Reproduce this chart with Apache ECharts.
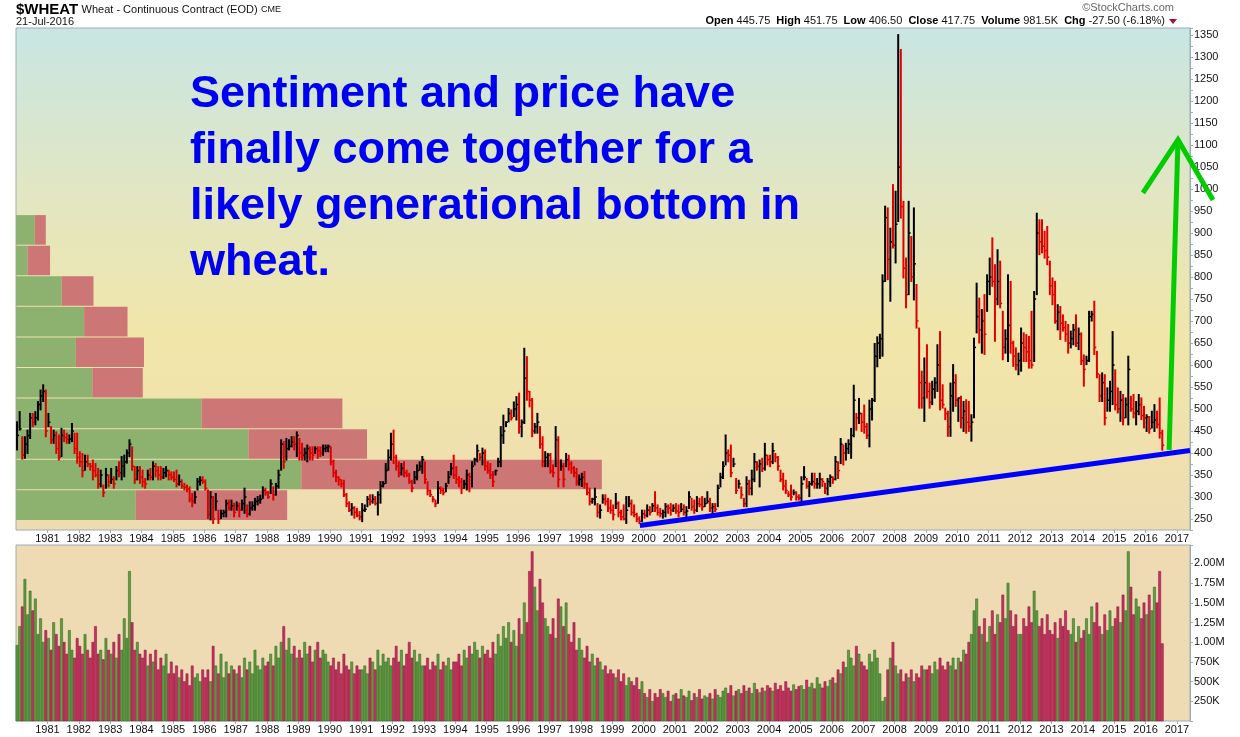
<!DOCTYPE html>
<html><head><meta charset="utf-8">
<script src="https://cdn.jsdelivr.net/npm/echarts@6/dist/echarts.min.js"></script>
<style>html,body{margin:0;padding:0;background:#fff}#c{width:1240px;height:737px}</style>
</head><body><div id="c"></div>
<script>
// ---------- DATA (monthly bars, index 0 = Jan 1980) ----------
const startYear = 1980;
const hi = [471,494,437,437,452,490,490,494,517,543,555,543,490,460,452,448,441,456,452,445,441,467,445,445,403,399,395,395,376,384,376,365,361,327,365,350,365,346,369,380,392,395,407,430,414,369,369,369,361,342,361,365,380,376,369,369,365,369,361,357,357,361,350,339,331,327,323,308,312,342,346,346,339,316,312,301,308,270,270,270,293,293,293,286,289,286,293,320,282,289,289,297,301,304,323,320,312,339,323,331,361,430,426,433,430,437,437,448,433,422,411,418,414,414,414,
414,414,418,418,418,414,384,361,346,339,338,308,289,285,278,274,267,285,282,301,305,305,301,312,335,335,376,407,445,452,395,380,376,380,361,354,338,358,373,380,392,380,335,316,301,293,335,323,320,331,358,376,395,369,346,342,338,361,354,380,388,418,399,411,407,380,376,358,361,388,460,486,471,501,498,516,528,536,475,638,619,540,524,467,490,460,437,403,399,399,373,460,437,384,376,399,395,380,369,365,350,354,358,331,320,297,320,285,282,305,305,297,293,282,308,
289,270,282,301,301,293,282,263,255,270,270,282,278,285,312,282,274,270,285,282,285,282,285,282,285,282,278,312,297,293,301,297,301,297,312,297,285,285,327,354,380,441,407,418,388,342,338,323,297,346,338,361,399,380,384,388,422,395,395,422,399,392,361,354,338,312,327,316,312,305,346,369,342,335,354,354,342,354,342,331,342,350,346,392,380,433,418,422,430,456,554,490,524,490,509,467,520,524,649,664,670,
805,961,957,911,1010,995,1351,1317,972,843,972,892,957,783,684,586,616,646,559,563,571,646,676,555,502,495,559,601,578,525,529,517,521,517,487,661,786,752,726,760,805,843,889,828,862,836,722,680,805,790,654,639,627,684,673,669,665,722,767,945,930,930,904,915,836,798,790,737,733,714,699,692,677,692,714,684,673,623,620,722,722,745,631,578,582,578,548,563,676,589,548,540,533,525,620,529,533,517,533,525,506,487,483,495,510,495,525,451.75];
const lo = [407,452,386,388,399,433,460,464,475,498,517,437,460,422,422,399,384,392,426,422,422,426,399,377,369,346,361,369,361,339,346,320,323,301,320,323,331,320,339,346,339,346,377,392,361,331,339,331,323,320,339,339,339,346,339,339,342,346,339,339,335,323,327,320,316,312,289,278,286,316,327,331,316,251,248,240,270,240,251,255,255,270,270,255,270,255,270,263,255,259,270,270,282,286,297,304,297,308,293,304,320,361,365,384,407,414,407,392,384,384,384,380,384,384,399,
388,392,395,403,403,373,346,335,327,323,301,278,267,259,252,255,248,244,267,278,282,286,282,259,286,323,331,361,384,376,361,346,350,346,346,331,312,331,339,361,354,331,305,301,289,278,286,308,305,312,331,350,342,331,323,308,320,316,312,323,373,380,384,373,361,354,342,324,350,369,369,422,460,471,475,483,475,445,437,467,520,505,437,445,445,411,369,369,369,354,346,369,323,361,323,369,361,354,346,327,327,324,320,305,282,286,282,255,252,286,282,267,263,248,274,
255,248,248,240,278,259,255,244,240,244,252,255,259,267,267,259,255,252,255,263,259,267,263,255,267,259,255,274,270,263,267,278,270,278,286,267,263,267,278,323,342,373,380,346,369,308,320,297,278,278,305,305,335,361,323,358,361,373,369,376,380,361,335,316,308,301,293,305,293,293,289,339,320,301,327,320,320,320,324,308,305,324,331,339,342,376,373,384,399,388,437,452,467,449,445,433,414,475,517,596,615,
620,790,794,745,866,832,926,934,798,730,760,790,748,684,502,502,472,525,502,510,525,540,498,502,476,438,438,495,506,472,457,449,445,449,427,480,673,650,627,624,722,760,779,654,737,730,612,627,608,627,597,589,578,586,608,608,593,593,608,760,851,855,843,828,760,737,695,680,658,677,654,627,639,646,642,635,601,552,601,608,700,624,571,517,517,464,495,495,510,498,491,472,464,480,464,495,480,464,487,476,457,449,445,457,449,457,434,406.5];
const cl = [440,455,395,420,440,480,470,480,510,530,540,450,470,430,440,410,390,440,435,430,432,450,410,390,380,360,380,375,370,360,350,330,350,310,350,335,340,330,360,355,370,380,400,420,370,340,360,345,335,330,350,345,370,360,350,345,355,360,350,345,340,330,335,325,322,318,295,290,300,335,338,335,320,260,300,250,290,250,262,265,285,275,280,265,280,270,285,300,262,275,280,290,292,295,315,310,300,330,305,325,350,420,380,410,415,425,420,440,400,395,400,410,400,395,410,
405,400,410,412,415,380,355,345,340,330,305,285,270,275,265,258,255,270,272,295,290,295,285,305,325,330,360,390,420,390,370,355,365,355,350,335,320,345,360,370,385,340,315,305,295,285,320,315,310,325,345,365,350,340,335,320,330,350,345,370,385,405,390,400,370,360,350,335,360,380,440,450,470,490,480,500,510,460,470,570,540,520,450,460,470,420,380,390,395,360,355,430,340,370,340,385,375,365,355,335,340,345,330,310,290,295,300,265,270,295,290,275,270,260,285,
265,255,250,270,285,265,260,250,245,262,258,270,265,280,275,265,262,265,278,275,270,275,268,265,272,265,268,300,278,270,285,283,278,285,290,275,278,272,320,345,370,400,395,355,375,315,330,305,285,330,320,340,380,370,375,365,395,385,380,405,390,370,340,325,315,305,300,310,300,298,330,345,325,330,335,330,330,340,335,320,335,345,340,380,360,420,400,410,420,440,520,480,490,470,460,440,500,520,620,650,660,
790,935,840,880,872,920,1050,960,820,760,900,800,830,700,560,525,560,540,515,545,560,600,520,510,490,460,530,560,520,525,480,495,470,460,470,640,710,680,700,670,790,800,790,750,790,740,640,660,690,650,620,600,610,650,640,630,610,600,750,900,880,870,860,845,780,760,700,720,695,685,670,650,660,680,650,670,610,590,610,710,715,640,580,530,560,480,520,540,600,510,500,520,480,510,590,500,490,495,510,485,480,482,455,470,475,465,445.75,417.75];
// monthly volume, thousands of contracts
const volK = [
960,1200,1450,1800,1350,1650,1400,1550,1100,1300,1000,1150,
1050,900,1250,1100,950,1300,1000,850,1150,900,800,1050,
950,850,1100,900,800,1000,1200,850,900,780,1050,900,
850,1000,800,1100,900,1300,1050,1900,1250,900,1000,850,
800,900,700,850,750,900,650,800,700,850,600,750,
600,700,550,650,500,600,450,700,550,600,500,650,
550,650,500,950,700,600,850,550,750,600,700,650,
600,700,550,800,650,750,600,900,700,650,800,700,
750,850,700,950,800,1000,1200,900,1050,850,950,800,
900,800,1000,850,950,750,900,1000,800,900,850,750,
700,800,650,750,600,850,700,650,750,600,700,650,
650,700,600,800,750,650,900,700,850,750,800,700,
800,950,750,900,700,850,1000,800,900,750,850,700,
700,800,650,750,700,850,650,750,700,800,650,750,
750,850,700,900,800,950,850,1000,900,800,950,850,
900,800,1000,850,1100,950,1200,1050,1250,1000,1150,950,
1300,1100,1500,1250,1900,2150,1700,1400,1800,1500,1300,1200,
1100,1300,1050,1550,1450,1200,1500,1100,1000,1250,900,1050,
900,800,950,750,850,700,800,750,650,700,600,650,
600,550,650,500,600,450,550,500,450,550,400,500,
350,300,400,250,350,300,400,350,300,380,250,330,
350,280,400,320,300,380,260,350,300,400,280,320,
300,350,280,400,330,300,380,420,350,450,320,380,
400,350,450,380,420,350,480,400,360,420,380,450,
420,380,480,400,450,380,500,420,380,460,400,440,
450,400,520,430,480,410,550,470,420,500,440,520,
550,480,650,600,750,680,900,800,700,950,850,750,
700,650,850,750,900,800,600,250,300,650,800,1000,
700,600,650,500,600,550,650,500,600,550,700,650,
650,700,600,750,650,800,700,650,750,700,800,650,
800,750,900,850,1000,1100,1400,1550,1200,1100,1300,1000,
1200,1400,1100,1350,1250,1600,1300,1750,1400,1200,1350,1100,
1100,1300,1200,1450,1250,1650,1400,1200,1300,1100,1350,1150,
1100,1250,1050,1300,1200,1400,1150,1100,1300,1000,1200,1050,
1150,1300,1100,1450,1250,1500,1200,1100,1350,1150,1400,1200,
1300,1450,1250,1600,1400,2150,1700,1350,1550,1450,1300,1500,
1350,1600,1400,1700,1500,1900,981.5];
// volume-by-price zones (price edges) and up/down volume (share of plot width, %)
const vbpEdges = [248, 317.5, 387, 456.5, 526, 595.5, 665, 734.5, 804, 873.5, 943];
const vbpUp   = [10.2, 24.3, 19.8, 15.8, 6.5, 5.1, 5.8, 3.9, 1.0, 1.6];
const vbpDown = [12.9, 25.6, 10.1, 12.0, 4.3, 5.8, 3.7, 2.7, 1.9, 0.94];
// annotations in data units [monthIndex, price]
const trendLine = [[238.6, 235], [449, 405.5]];
const arrowShaft = [[441, 407], [444.4, 1112]];
const arrowHead = [[431, 991], [444.4, 1112], [457.8, 975]];
const noteLines = ['Sentiment and price have', 'finally come together for a', 'likely generational bottom in', 'wheat.'];

// ---------- BUILD ----------
const N = hi.length;
const ohlc = [], vols = [];
for (let i = 0; i < N; i++) {
  const up = i === 0 ? 1 : (cl[i] >= cl[i - 1] ? 1 : 0);
  ohlc.push([i + 0.4, hi[i], lo[i], cl[i], up]);
  vols.push([i + 0.4, volK[i], up]);
}
const vbp = vbpUp.map((u, k) => [vbpEdges[k], vbpEdges[k + 1], u, vbpDown[k]]);

const FONT = 'Liberation Sans, Arial, sans-serif';
const AX = '#9aaeb6';
const xLbl = v => (v % 12 === 0 ? String(startYear + v / 12) : '');
const xAxisBase = (gi) => ({
  type: 'value', gridIndex: gi, min: 0, max: 449, interval: 12,
  axisLine: { show: false, onZero: false }, splitLine: { show: false },
  axisTick: { show: true, length: 3, lineStyle: { color: AX } },
  axisLabel: { formatter: xLbl, showMinLabel: false, showMaxLabel: false, color: '#111', fontSize: 11, fontFamily: FONT, margin: 3 }
});

const chart = echarts.init(document.getElementById('c'), null, { renderer: 'canvas' });
chart.setOption({
  animation: false,
  backgroundColor: '#fff',
  grid: [
    { left: 16, right: 50, top: 28, height: 502, show: true, borderColor: AX, borderWidth: 1,
      backgroundColor: new echarts.graphic.LinearGradient(0, 0, 0, 1, [
        { offset: 0, color: '#c8e6e3' }, { offset: 0.33, color: '#e2e6c2' },
        { offset: 0.62, color: '#f1e6a9' }, { offset: 1, color: '#eedcb1' }]) },
    { left: 16, right: 50, top: 545, height: 176, show: true, borderColor: AX, borderWidth: 1, backgroundColor: '#eedbb4' }
  ],
  xAxis: [
    xAxisBase(0), xAxisBase(1),
    { type: 'value', gridIndex: 0, min: 0, max: 100, show: false }
  ],
  yAxis: [
    { type: 'value', gridIndex: 0, position: 'right', min: 225, max: 1366, interval: 25,
      axisLine: { show: true, onZero: false, lineStyle: { color: AX } }, splitLine: { show: false },
      axisTick: { show: true, length: 3, lineStyle: { color: AX } },
      axisLabel: { formatter: v => (v % 50 === 0 ? String(v) : ''), color: '#111', fontSize: 11, fontFamily: FONT, margin: 4 } },
    { type: 'value', gridIndex: 1, position: 'right', min: 0, max: 2234, interval: 250,
      axisLine: { show: true, onZero: false, lineStyle: { color: AX } }, splitLine: { show: false },
      axisTick: { show: true, length: 3, lineStyle: { color: AX } },
      axisLabel: { formatter: v => (v === 0 || v % 250 !== 0) ? '' : (v >= 1000 ? (v / 1000).toFixed(2) + 'M' : v + 'K'),
        color: '#111', fontSize: 11, fontFamily: FONT, margin: 4 } }
  ],
  series: [
    { type: 'custom', xAxisIndex: 2, yAxisIndex: 0, z: 1, data: vbp, silent: true,
      renderItem: (p, api) => {
        const lo_ = api.value(0), hi_ = api.value(1), u = api.value(2), d = api.value(3);
        const a = api.coord([0, hi_]), b = api.coord([u, lo_]), c = api.coord([u + d, lo_]);
        const top = a[1] + 1, h = b[1] - a[1] - 1;
        return { type: 'group', children: [
          { type: 'rect', shape: { x: a[0], y: top, width: b[0] - a[0], height: h }, style: { fill: '#8db16f' } },
          { type: 'rect', shape: { x: b[0], y: top, width: c[0] - b[0], height: h }, style: { fill: '#cc7676' } }
        ] };
      } },
    { type: 'custom', xAxisIndex: 0, yAxisIndex: 0, z: 3, data: ohlc, silent: true,
      renderItem: (p, api) => {
        const x = api.value(0);
        const pH = api.coord([x, api.value(1)]), pL = api.coord([x, api.value(2)]), pC = api.coord([x, api.value(3)]);
        const col = api.value(4) ? '#000000' : '#e00000';
        return { type: 'group', children: [
          { type: 'line', shape: { x1: pH[0], y1: pH[1] - 0.5, x2: pL[0], y2: pL[1] + 0.5 }, style: { stroke: col, lineWidth: 2 } },
          { type: 'line', shape: { x1: pC[0], y1: pC[1], x2: pC[0] + 2, y2: pC[1] }, style: { stroke: col, lineWidth: 1.5 } }
        ] };
      } },
    { type: 'line', xAxisIndex: 0, yAxisIndex: 0, z: 5, data: trendLine, symbol: 'none', silent: true,
      lineStyle: { color: '#0000ff', width: 5 } },
    { type: 'custom', xAxisIndex: 0, yAxisIndex: 0, z: 20, data: [[0]], silent: true, clip: false,
      renderItem: (p, api) => {
        const sh = arrowShaft.map(q => api.coord(q));
        const hd = arrowHead.map(q => api.coord(q));
        return { type: 'group', children: [
          { type: 'polyline', shape: { points: sh }, style: { stroke: '#00cc00', lineWidth: 5, fill: null } },
          { type: 'polyline', shape: { points: hd }, style: { stroke: '#00cc00', lineWidth: 5, fill: null, lineJoin: 'miter' } }
        ] };
      } },
    { type: 'custom', xAxisIndex: 1, yAxisIndex: 1, z: 3, data: vols, silent: true,
      renderItem: (p, api) => {
        const x = api.value(0);
        const a = api.coord([x - 0.42, api.value(1)]), b = api.coord([x + 0.42, 0]);
        const up = api.value(2);
        return { type: 'rect', shape: { x: a[0], y: a[1], width: b[0] - a[0], height: b[1] - a[1] },
          style: { fill: up ? '#5d9e3e' : '#cc2f5f', stroke: up ? '#2f5e22' : '#7a1436', lineWidth: 0.5 } };
      } }
  ],
  graphic: [
    { type: 'text', left: 190, top: 67, z: 10, silent: true,
      style: { text: noteLines.join('\n'), font: 'bold 45px ' + FONT, fill: '#0000f0', lineHeight: 56 } },
    { type: 'text', left: 16, top: 2, silent: true,
      style: { text: '{a|$WHEAT} {b|Wheat - Continuous Contract (EOD)} {c|CME}',
        rich: { a: { font: 'bold 15px ' + FONT, fill: '#000' }, b: { font: '11px ' + FONT, fill: '#111' }, c: { font: '9px ' + FONT, fill: '#111' } } } },
    { type: 'text', left: 16, top: 16, silent: true, style: { text: '21-Jul-2016', font: '11px ' + FONT, fill: '#111' } },
    { type: 'text', right: 66, top: 2, silent: true, style: { text: '\u00a9StockCharts.com', font: '11px ' + FONT, fill: '#666' } },
    { type: 'text', right: 75, top: 15, silent: true,
      style: { text: '{b|Open} 445.75  {b|High} 451.75  {b|Low} 406.50  {b|Close} 417.75  {b|Volume} 981.5K  {b|Chg} -27.50 (-6.18%)',
        rich: { b: { font: 'bold 11px ' + FONT, fill: '#000' } }, font: '11px ' + FONT, fill: '#111' } },
    { type: 'polygon', silent: true, shape: { points: [[1169, 19], [1177, 19], [1173, 24]] }, style: { fill: '#a0143c' } }
  ]
});
</script></body></html>
